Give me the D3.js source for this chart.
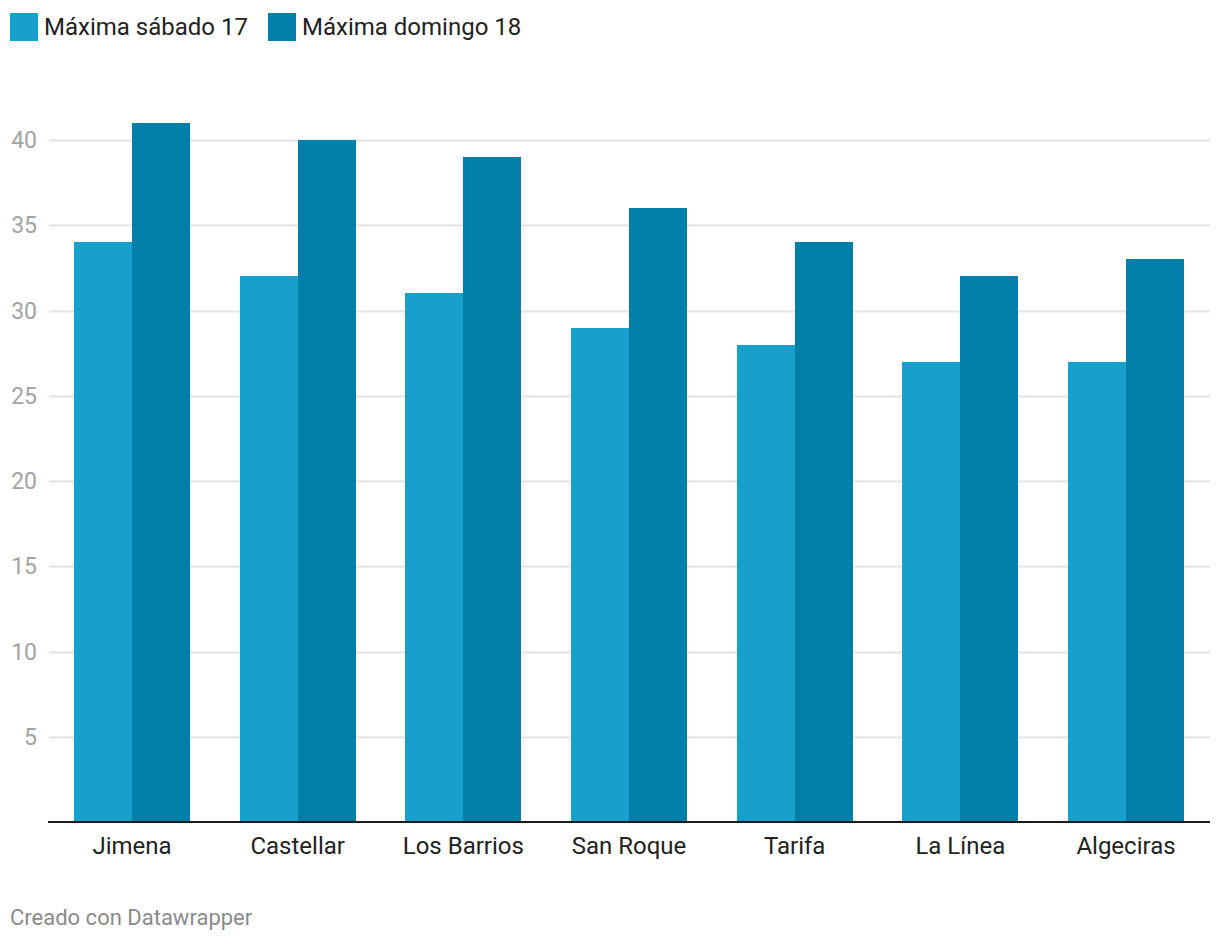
<!DOCTYPE html>
<html>
<head>
<meta charset="utf-8">
<script src="https://cdn.jsdelivr.net/npm/d3@7"></script>
<style>
  html, body { margin: 0; padding: 0; background: #fff; }
  svg { display: block; font-family: Roboto, "Noto Sans", sans-serif; }
</style>
</head>
<body>
<svg id="chart" width="1220" height="944"></svg>
<script>
const categories = ["Jimena", "Castellar", "Los Barrios", "San Roque", "Tarifa", "La Línea", "Algeciras"];
const seriesNames = ["Máxima sábado 17", "Máxima domingo 18"];
const sabado = [34, 32, 31, 29, 28, 27, 27];
const domingo = [41, 40, 39, 36, 34, 32, 33];
const yTicks = [5, 10, 15, 20, 25, 30, 35, 40];
const colors = ["#18a0cd", "#017fa8"];

const svg = d3.select("#chart");
const plotLeft = 48, plotRight = 1210, plotBottom = 822;

const x = d3.scaleBand().domain(categories).range([plotLeft, plotRight]).paddingInner(0.3).paddingOuter(0.157);
const x1 = d3.scaleBand().domain(seriesNames).range([0, x.bandwidth()]).padding(0);
const y = d3.scaleLinear().domain([0, 40]).range([plotBottom, plotBottom - 682]);

// gridlines
svg.append("g").selectAll("line").data(yTicks).join("line")
  .attr("x1", plotLeft + 1).attr("x2", plotRight)
  .attr("y1", d => Math.round(y(d)) + 0.5).attr("y2", d => Math.round(y(d)) + 0.5)
  .attr("stroke", "#e3e3e3").attr("stroke-width", 2);

// y labels
svg.append("g").selectAll("text").data(yTicks).join("text")
  .attr("x", 37).attr("y", d => y(d))
  .attr("dy", "0.35em")
  .attr("text-anchor", "end")
  .attr("fill", "#a3a3a3")
  .attr("font-size", 23)
  .text(d => d);

// bars
const data = categories.map((c, i) => ({ cat: c, vals: [sabado[i], domingo[i]] }));
const groups = svg.append("g").selectAll("g").data(data).join("g")
  .attr("transform", d => `translate(${x(d.cat)},0)`);
groups.selectAll("rect").data(d => d.vals.map((v, j) => ({ v, s: seriesNames[j], j })))
  .join("rect")
  .attr("x", d => x1(d.s))
  .attr("width", x1.bandwidth())
  .attr("y", d => y(d.v))
  .attr("height", d => y(0) - y(d.v))
  .attr("fill", d => colors[d.j])
  .attr("shape-rendering", "crispEdges");

// baseline
svg.append("line")
  .attr("x1", plotLeft).attr("x2", plotRight)
  .attr("y1", plotBottom).attr("y2", plotBottom)
  .attr("stroke", "#1a1a1a").attr("stroke-width", 2);

// x labels
svg.append("g").selectAll("text").data(categories).join("text")
  .attr("x", d => x(d) + x.bandwidth() / 2)
  .attr("y", 854)
  .attr("text-anchor", "middle")
  .attr("fill", "#222")
  .attr("font-size", 24)
  .text(d => d);

// legend
const legendX = [10, 268];
const lg = svg.append("g").selectAll("g").data(seriesNames).join("g")
  .attr("transform", (d, i) => `translate(${legendX[i]},13)`);
lg.append("rect").attr("width", 28).attr("height", 28).attr("fill", (d, i) => colors[i]);
lg.append("text").attr("x", 34).attr("y", 22)
  .attr("fill", "#222").attr("font-size", 24)
  .text(d => d);

// footer
svg.append("text").attr("x", 10).attr("y", 925)
  .attr("fill", "#8a8a8a").attr("font-size", 22)
  .text("Creado con Datawrapper");
</script>
</body>
</html>
